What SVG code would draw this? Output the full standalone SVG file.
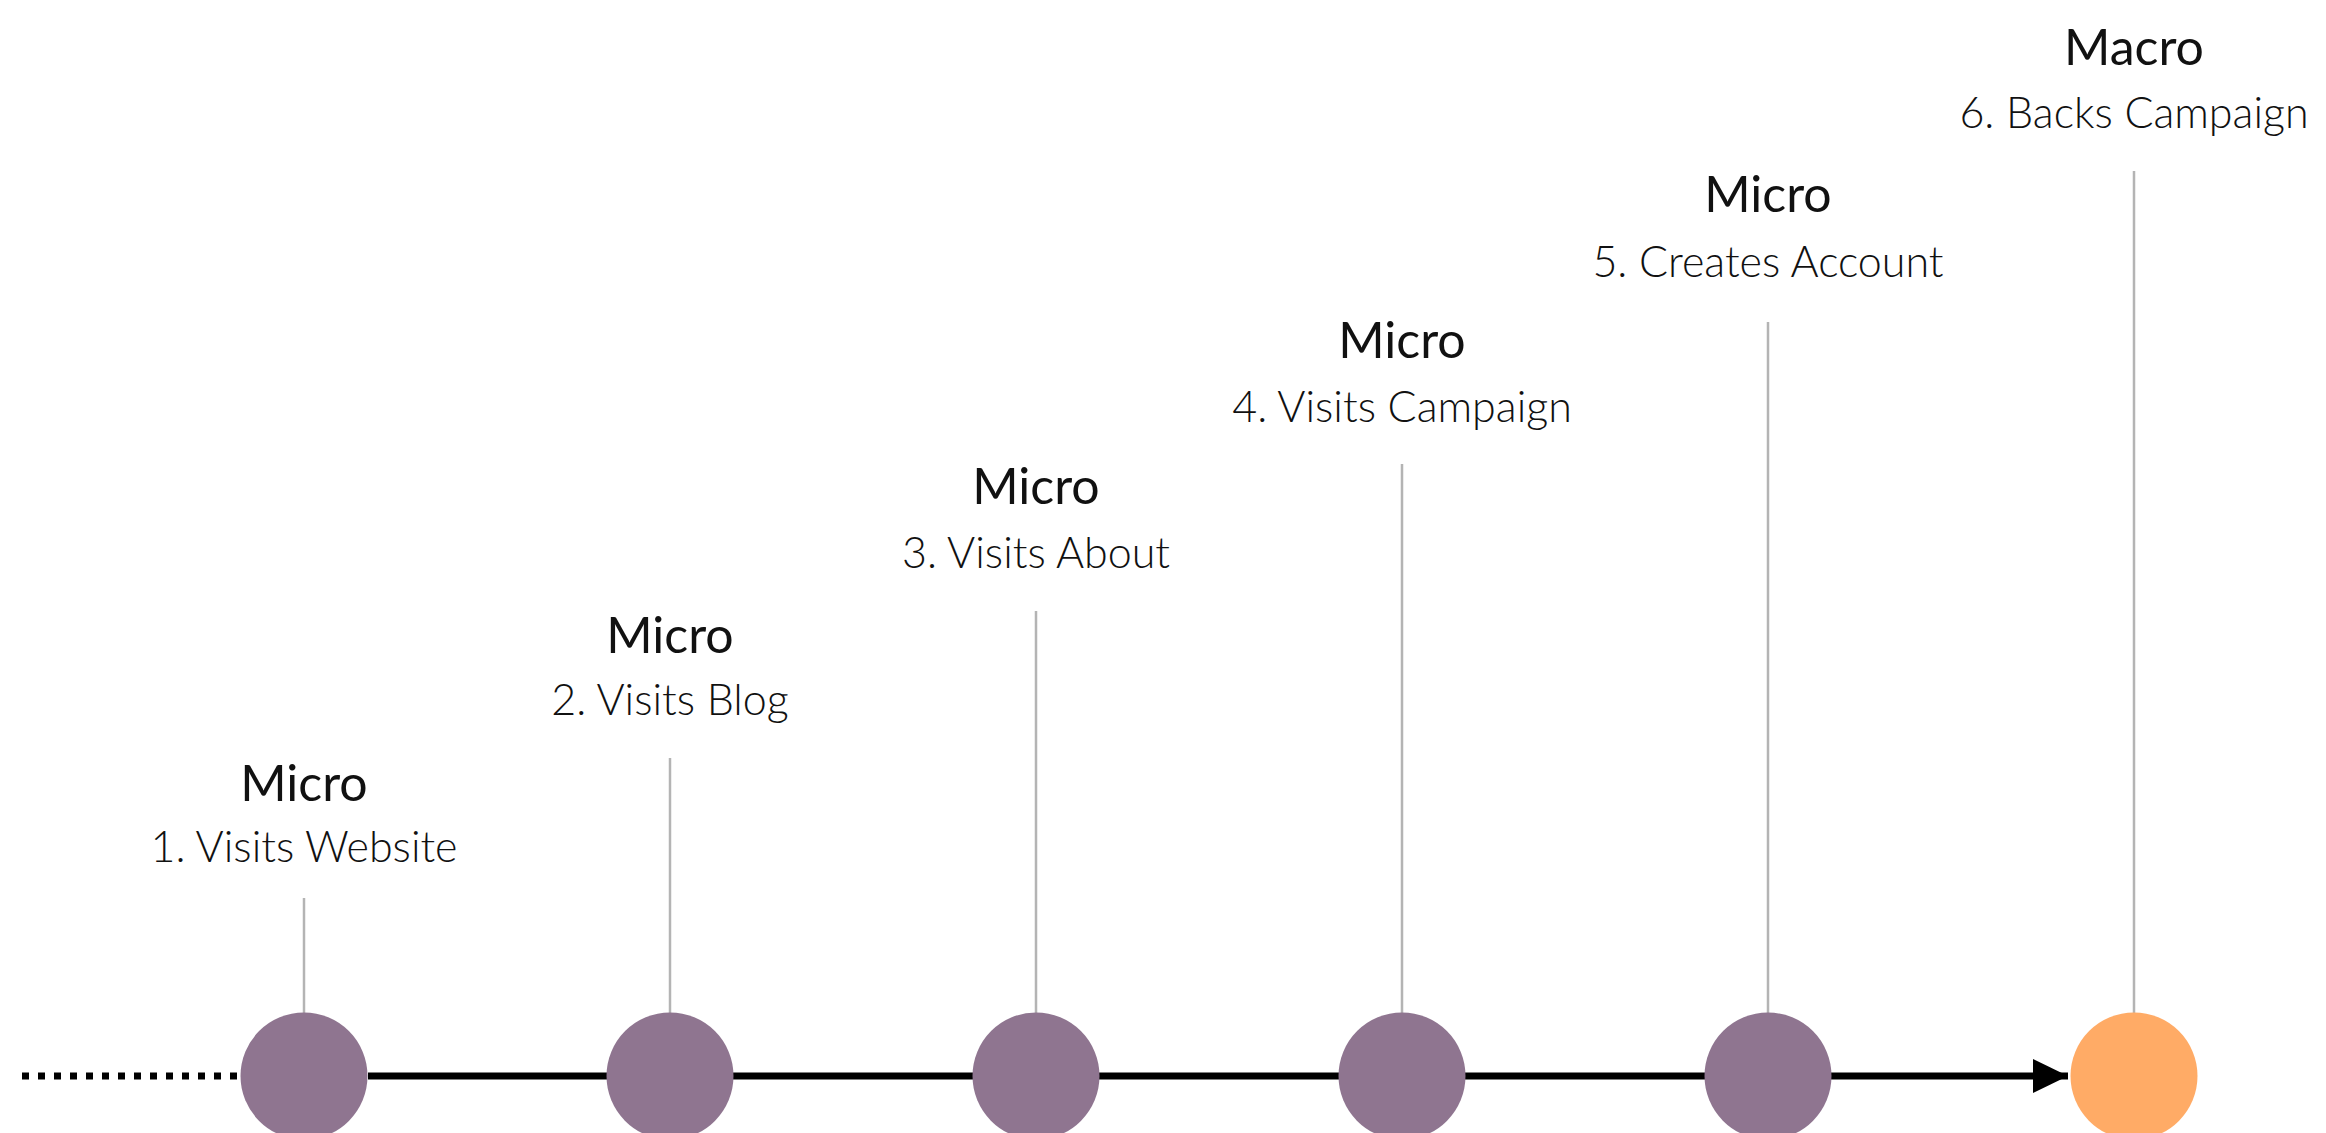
<svg xmlns="http://www.w3.org/2000/svg" width="2326" height="1133" viewBox="0 0 2326 1133">
  <style>
    .title { font-family: "Lato", "Open Sans", sans-serif; font-size: 50px; fill: #111111; text-anchor: middle; }
    .step { font-family: "Lato", "Open Sans", sans-serif; font-weight: 300; font-size: 43px; fill: #111111; text-anchor: middle; }
    .stem { stroke: #b4b4b4; stroke-width: 2.5; }
    .micro { fill: #8f7590; }
    .macro { fill: #ffab66; }
    .axis { stroke: #000000; stroke-width: 7; fill: none; }
  </style>
  <defs>
    <marker id="arrowhead" markerUnits="userSpaceOnUse" markerWidth="36" markerHeight="36" refX="35" refY="17" orient="auto">
      <path d="M0,0 L35,17 L0,34 Z" fill="#000000"/>
    </marker>
  </defs>
  <rect width="2326" height="1133" fill="#ffffff"/>

  <!-- timeline axis -->
  <g id="connectors">
    <line class="axis" x1="22" y1="1076" x2="240" y2="1076" stroke-dasharray="7 9"/>
    <line class="axis" x1="368" y1="1076" x2="2068" y2="1076" marker-end="url(#arrowhead)"/>
    <line class="stem" x1="304" y1="898" x2="304" y2="1013"/>
    <line class="stem" x1="670" y1="758" x2="670" y2="1013"/>
    <line class="stem" x1="1036" y1="611" x2="1036" y2="1013"/>
    <line class="stem" x1="1402" y1="464" x2="1402" y2="1013"/>
    <line class="stem" x1="1768" y1="322" x2="1768" y2="1013"/>
    <line class="stem" x1="2134" y1="171" x2="2134" y2="1013"/>
  </g>

  <g id="node-1">
    <circle class="micro" cx="304" cy="1076" r="63.5"/>
    <text class="title" x="304" y="801">Micro</text>
    <text class="step" x="304" y="862">1. Visits Website</text>
  </g>
  <g id="node-2">
    <circle class="micro" cx="670" cy="1076" r="63.5"/>
    <text class="title" x="670" y="653">Micro</text>
    <text class="step" x="670" y="715">2. Visits Blog</text>
  </g>
  <g id="node-3">
    <circle class="micro" cx="1036" cy="1076" r="63.5"/>
    <text class="title" x="1036" y="504">Micro</text>
    <text class="step" x="1036" y="568">3. Visits About</text>
  </g>
  <g id="node-4">
    <circle class="micro" cx="1402" cy="1076" r="63.5"/>
    <text class="title" x="1402" y="358">Micro</text>
    <text class="step" x="1402" y="422">4. Visits Campaign</text>
  </g>
  <g id="node-5">
    <circle class="micro" cx="1768" cy="1076" r="63.5"/>
    <text class="title" x="1768" y="212">Micro</text>
    <text class="step" x="1768" y="277">5. Creates Account</text>
  </g>
  <g id="node-6">
    <circle class="macro" cx="2134" cy="1076" r="63.5"/>
    <text class="title" x="2134" y="65">Macro</text>
    <text class="step" x="2134" y="128">6. Backs Campaign</text>
  </g>
</svg>
